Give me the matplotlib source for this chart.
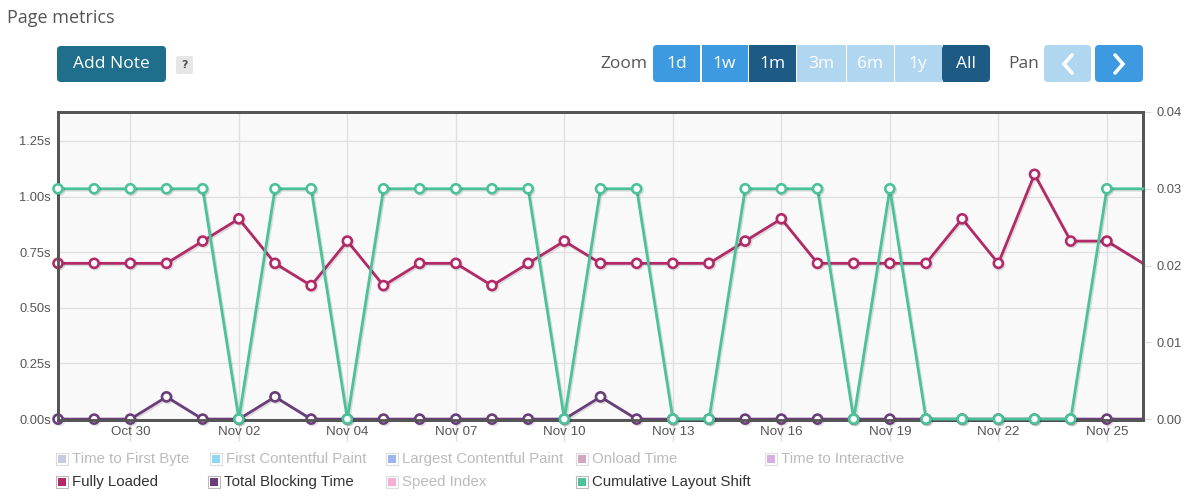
import matplotlib
matplotlib.use("Agg")
import matplotlib.pyplot as plt
from matplotlib.patches import FancyBboxPatch, Rectangle
import matplotlib.patheffects as pe

# values per day (one point per day, last one runs off the right edge)
fully_loaded = [0.7, 0.7, 0.7, 0.7, 0.8, 0.9, 0.7, 0.6, 0.8, 0.6, 0.7, 0.7, 0.6, 0.7, 0.8, 0.7,
                0.7, 0.7, 0.7, 0.8, 0.9, 0.7, 0.7, 0.7, 0.7, 0.9, 0.7, 1.1, 0.8, 0.8, 0.7]
blocking_time = [0, 0, 0, 0.1, 0, 0, 0.1, 0, 0, 0, 0, 0, 0, 0, 0, 0.1,
                 0, 0, 0, 0, 0, 0, 0, 0, 0, 0, 0, 0, 0, 0, 0]
layout_shift = [0.03, 0.03, 0.03, 0.03, 0.03, 0, 0.03, 0.03, 0, 0.03, 0.03, 0.03, 0.03, 0.03, 0, 0.03,
                0.03, 0, 0, 0.03, 0.03, 0.03, 0, 0.03, 0, 0, 0, 0, 0, 0.03, 0.03]
tick_labels = ["Oct 30", "Nov 02", "Nov 04", "Nov 07", "Nov 10",
               "Nov 13", "Nov 16", "Nov 19", "Nov 22", "Nov 25"]
left_ticks = [0, 0.25, 0.5, 0.75, 1.0, 1.25]
right_ticks = [0, 0.01, 0.02, 0.03, 0.04]

legend_names = ["Time to First Byte", "First Contentful Paint", "Largest Contentful Paint", "Onload Time",
                "Time to Interactive", "Fully Loaded", "Total Blocking Time", "Speed Index",
                "Cumulative Layout Shift"]
legend_colors = ["#c5cbe0", "#8fd6f5", "#9db7ee", "#d4a6bf", "#d6afe2", "#b32a69", "#6a3e7b",
                 "#f5afd1", "#4cc29a"]
legend_active = [False, False, False, False, False, True, True, False, True]

W, H = 1194, 496
fig = plt.figure(figsize=(W / 100, H / 100), dpi=100)

# overlay in pixel coordinates for title, buttons and legend
ov = fig.add_axes([0, 0, 1, 1])
ov.set_xlim(0, W)
ov.set_ylim(H, 0)
ov.axis("off")

L, R, T, B = 58, 1143, 112, 420
ax = fig.add_axes([L / W, (H - B) / H, (R - L) / W, (B - T) / H])
ax.set_facecolor("#f9f9f9")
x = list(range(len(fully_loaded)))
ymax = 1.38
ymin = -0.004
ax.set_xlim(0, len(x) - 1)
ax.set_ylim(ymin, ymax)
ax.set_yticks(left_ticks)
ax.set_yticklabels([f"{v:.2f}s" for v in left_ticks], fontsize=9.3, color="#555555",
                   family="Liberation Sans")
ax.set_xticks(list(range(2, len(x), 3)))
ax.set_xticklabels(tick_labels, fontsize=9.6, color="#555555", family="Liberation Sans")
ax.tick_params(axis="y", length=0, pad=5)
ax.tick_params(axis="x", length=15, color="#dddddd", width=1, pad=-11)
ax.grid(True, color="#e0e0e0", linewidth=1)
ax.set_axisbelow(True)
for s in ax.spines.values():
    s.set_color("#555555")
    s.set_linewidth(2)

shadow = [pe.SimpleLineShadow(offset=(1, -1), alpha=0.12), pe.Normal()]
mk = dict(marker="o", markersize=6.5, markerfacecolor="white", markeredgewidth=1.9,
          markevery=list(range(len(x) - 1)), linewidth=2, clip_on=False, path_effects=shadow)
ax.plot(x, blocking_time, color="#6a3e7b", zorder=3, **mk)
ax.plot(x, fully_loaded, color="#b32a69", zorder=4, **mk)

ax2 = ax.twinx()
scale = 0.04 / ymax
ax2.set_ylim(ymin * scale, 0.04)
ax2.set_yticks(right_ticks)
ax2.set_yticklabels([f"{v:.2f}" for v in right_ticks], fontsize=9.3, color="#555555",
                    family="Liberation Sans")
ax2.tick_params(axis="y", length=6, color="#dddddd", pad=4)
for s in ax2.spines.values():
    s.set_color("#555555")
    s.set_linewidth(2)
ax2.plot(x, layout_shift, color="#4cc29a", zorder=5, **mk)

# title
ov.text(7, 18, "Page metrics", fontsize=13, color="#555555", va="center", ha="left",
        family="Open Sans")

def button(x0, x1, y0, y1, color, r=4):
    ov.add_patch(FancyBboxPatch((x0, y0), x1 - x0, y1 - y0,
                                boxstyle=f"round,pad=0,rounding_size={r}",
                                facecolor=color, edgecolor="none", mutation_aspect=1))

# add note
button(57, 166, 46, 82, "#1f6e8c")
ov.text(111.5, 64, "Add Note", fontsize=12.5, color="white", ha="center", va="center",
        family="Open Sans")
button(176, 193, 56, 74, "#e6e6e6", r=2)
ov.text(184.5, 65, "?", fontsize=8, color="#555555", ha="center", va="center",
        fontweight="bold")

# zoom group
ov.text(600, 64, "Zoom", fontsize=12.5, color="#555555", ha="left", va="center",
        family="Open Sans")
edges = [653, 701, 748, 796, 846, 894, 942, 990]
labels = ["1d", "1w", "1m", "3m", "6m", "1y", "All"]
cols = ["#3d9ae0", "#3d9ae0", "#1d5a84", "#b1d6f0", "#b1d6f0", "#b1d6f0", "#1d5a84"]
button(653, 700, 45, 82, cols[0])
button(942, 990, 45, 82, cols[-1])
for i in range(1, 7):
    x0 = edges[i] + 1
    x1 = edges[i + 1] - (0 if i < 6 else 10)
    ov.add_patch(Rectangle((x0, 45), x1 - x0, 37, facecolor=cols[i], edgecolor="none"))
ov.add_patch(Rectangle((660, 45), 40, 37, facecolor=cols[0], edgecolor="none"))
for i, lab in enumerate(labels):
    ov.text((edges[i] + edges[i + 1]) / 2, 64, lab, fontsize=12.5, color="white",
            ha="center", va="center", family="Open Sans")

# pan
ov.text(1008, 64, "Pan", fontsize=12.5, color="#555555", ha="left", va="center",
        family="Open Sans")
button(1044, 1091, 45, 82, "#b1d6f0")
button(1095, 1143, 45, 82, "#3d9ae0")
ov.plot([1072, 1064, 1072], [55, 64, 73], color="white", linewidth=2.6,
        solid_capstyle="round", solid_joinstyle="miter")
ov.plot([1115, 1123, 1115], [55, 64, 73], color="white", linewidth=2.6,
        solid_capstyle="round", solid_joinstyle="miter")

# legend
box_x = [56, 210, 386, 576, 765, 56, 208, 386, 576]
row_y = [459, 459, 459, 459, 459, 482, 482, 482, 482]
for name, c, on, bx, by in zip(legend_names, legend_colors, legend_active, box_x, row_y):
    ov.add_patch(Rectangle((bx, by - 6), 12, 12, facecolor="white",
                           edgecolor="#bbbbbb" if on else "#dddddd", linewidth=0.8))
    ov.add_patch(Rectangle((bx + 2, by - 4), 8, 8, facecolor=c, edgecolor="none"))
    ov.text(bx + 16, by, name, fontsize=10.8, color="#333333" if on else "#bbbbbb",
            ha="left", va="center", family="Liberation Sans")

fig.savefig("out.png", dpi=100)
